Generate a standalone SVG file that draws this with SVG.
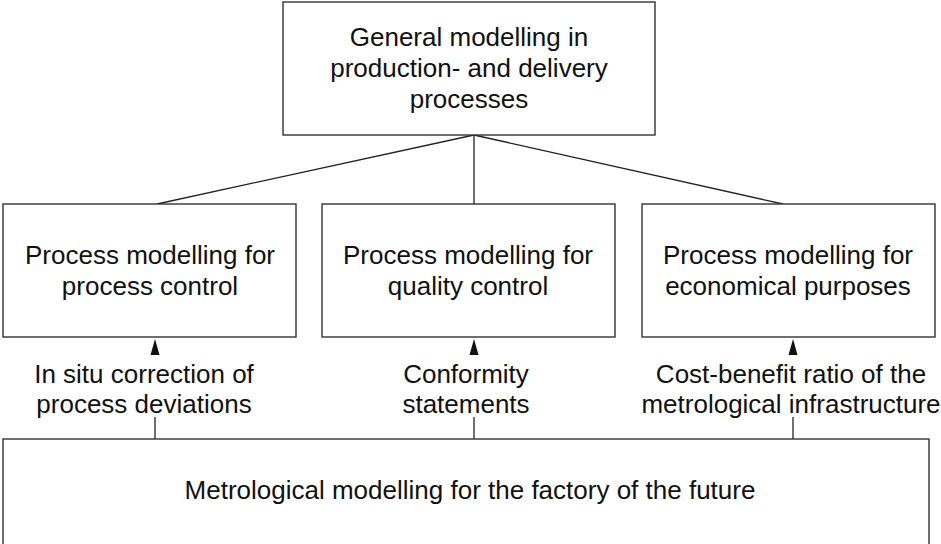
<svg xmlns="http://www.w3.org/2000/svg" width="941" height="544" viewBox="0 0 941 544">
<defs>
<style>
.box{fill:#fff;stroke:#333;stroke-width:1.4}
.ln{stroke:#222;stroke-width:1.3;fill:none}
.ah{fill:#111}
text{font-family:"Liberation Sans",Arial,sans-serif;font-size:26px;fill:#111;text-anchor:middle}
</style>
</defs>
<rect width="941" height="544" fill="#fff"/>
<g id="connectors">
<line class="ln" x1="474" y1="135" x2="157" y2="204"/>
<line class="ln" x1="474" y1="135" x2="474" y2="204"/>
<line class="ln" x1="474" y1="135" x2="783" y2="204"/>
<line class="ln" x1="155" y1="417" x2="155" y2="439"/>
<line class="ln" x1="474" y1="417" x2="474" y2="439"/>
<line class="ln" x1="793" y1="417" x2="793" y2="439"/>
<polygon class="ah" points="155,339 150.5,355 159.5,355"/>
<polygon class="ah" points="474,339 469.5,355 478.5,355"/>
<polygon class="ah" points="793,339 788.5,355 797.5,355"/>
</g>
<g id="top">
<rect class="box" x="283" y="2" width="372" height="133"/>
<text x="469" y="46">General modelling in</text>
<text x="469" y="77">production- and delivery</text>
<text x="469" y="108">processes</text>
</g>
<g id="left">
<rect class="box" x="3" y="204" width="293" height="133"/>
<text x="150" y="264">Process modelling for</text>
<text x="150" y="295">process control</text>
</g>
<g id="middle">
<rect class="box" x="322" y="204" width="293" height="133"/>
<text x="468" y="264">Process modelling for</text>
<text x="468" y="295">quality control</text>
</g>
<g id="right">
<rect class="box" x="642" y="204" width="293" height="133"/>
<text x="788" y="264">Process modelling for</text>
<text x="788" y="295">economical purposes</text>
</g>
<g id="label-left">
<text x="144" y="383">In situ correction of</text>
<text x="144" y="413">process deviations</text>
</g>
<g id="label-middle">
<text x="466" y="383">Conformity</text>
<text x="466" y="413">statements</text>
</g>
<g id="label-right">
<text x="791" y="383">Cost-benefit ratio of the</text>
<text x="791" y="413">metrological infrastructure</text>
</g>
<g id="bottom">
<rect class="box" x="3" y="439" width="926" height="110"/>
<text x="470" y="499">Metrological modelling for the factory of the future</text>
</g>
</svg>
